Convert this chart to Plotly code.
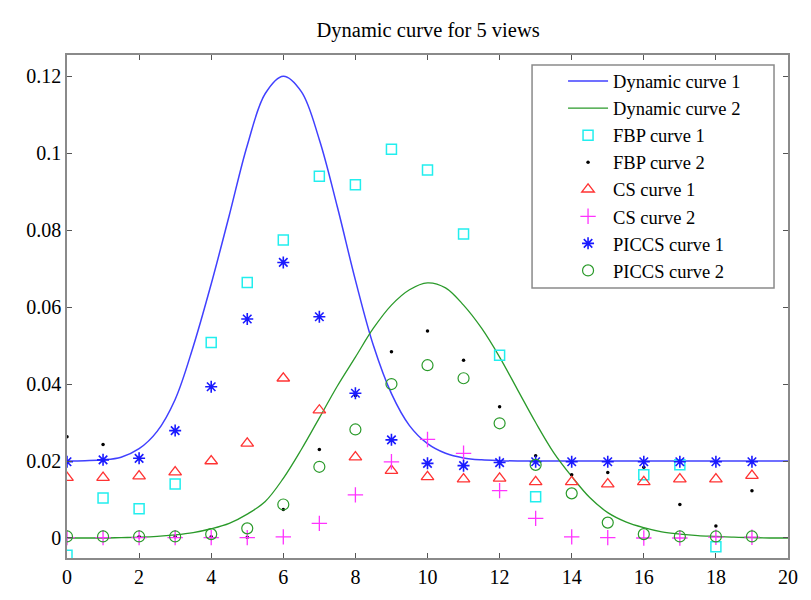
import plotly.graph_objects as go

# ---- data ----
x_pts = list(range(20))

fbp1 = [-0.0045, 0.0104, 0.0076, 0.0140, 0.0508, 0.0664, 0.0774, 0.0940, 0.0918, 0.1010,
        0.0956, 0.0790, 0.0475, 0.0107, None, None, 0.0164, 0.0190, -0.0023, None]
fbp2 = [0.0263, 0.0243, 0.0003, 0.0003, 0.0003, 0.0002, 0.0074, 0.0230, 0.0370, 0.0484,
        0.0538, 0.0462, 0.0341, 0.0214, 0.0164, 0.0170, 0.0184, 0.0087, 0.0031, 0.0123]
cs1 = [0.0157, 0.0157, 0.0161, 0.0171, 0.0200, 0.0246, 0.0415, 0.0332, 0.0210, 0.0175,
       0.0159, 0.0153, 0.0155, 0.0146, 0.0146, 0.0140, 0.0146, 0.0153, 0.0153, 0.0162]
cs2 = [0.0001, 0.0001, 0.0001, 0.0001, 0.0001, 0.0001, 0.0003, 0.0038, 0.0112, 0.0198,
       0.0256, 0.0220, 0.0123, 0.0051, 0.0003, 0.0001, 0.0000, 0.0000, 0.0002, 0.0002]
piccs1 = [0.0198, 0.0203, 0.0207, 0.0279, 0.0393, 0.0569, 0.0716, 0.0575, 0.0376, 0.0255,
          0.0194, 0.0188, 0.0196, 0.0198, 0.0198, 0.0198, 0.0198, 0.0198, 0.0198, 0.0198]
piccs2 = [0.0004, 0.0004, 0.0004, 0.0004, 0.0010, 0.0025, 0.0087, 0.0185, 0.0282, 0.0400,
          0.0449, 0.0415, 0.0298, 0.0190, 0.0116, 0.0040, 0.0010, 0.0004, 0.0004, 0.0004]

x_curve = [i * 0.5 for i in range(41)]
dyn1 = [0.0200, 0.0201, 0.0203, 0.0210, 0.0232, 0.0277, 0.0360, 0.0497, 0.0660, 0.0838,
        0.1020, 0.1155, 0.1200, 0.1160, 0.1035, 0.0860, 0.0670, 0.0500, 0.0375, 0.0292,
        0.0245, 0.0220, 0.0208, 0.0203, 0.0201, 0.0200, 0.0200, 0.0200, 0.0200, 0.0200,
        0.0200, 0.0200, 0.0200, 0.0200, 0.0200, 0.0200, 0.0200, 0.0200, 0.0200, 0.0200,
        0.0200]
dyn2 = [0.0000, 0.0000, 0.0000, 0.0001, 0.0002, 0.0004, 0.0008, 0.0014, 0.0024, 0.0038,
        0.0062, 0.0095, 0.0155, 0.0230, 0.0312, 0.0395, 0.0470, 0.0545, 0.0605, 0.0645,
        0.0663, 0.0650, 0.0605, 0.0545, 0.0470, 0.0385, 0.0300, 0.0222, 0.0160, 0.0105,
        0.0066, 0.0042, 0.0027, 0.0016, 0.0010, 0.0006, 0.0004, 0.0002, 0.0001, 0.0000,
        0.0000]

x_ticks = list(range(0, 21, 2))
y_ticks = [0, 0.02, 0.04, 0.06, 0.08, 0.1, 0.12]
y_tick_text = ["0", "0.02", "0.04", "0.06", "0.08", "0.1", "0.12"]

FONT = "Liberation Serif, Times New Roman, serif"

fig = go.Figure()
fig.add_trace(go.Scatter(x=x_curve, y=dyn1, mode="lines", name="Dynamic curve 1",
                         line=dict(color="#4040ff", width=1.5, shape="spline")))
fig.add_trace(go.Scatter(x=x_curve, y=dyn2, mode="lines", name="Dynamic curve 2",
                         line=dict(color="#2a9a2a", width=1.3, shape="spline")))
fig.add_trace(go.Scatter(x=x_pts, y=fbp1, mode="markers", name="FBP curve 1",
                         marker=dict(symbol="square-open", size=10, color="#22eeee",
                                     line=dict(width=1.5, color="#22eeee"))))
fig.add_trace(go.Scatter(x=x_pts, y=fbp2, mode="markers", name="FBP curve 2",
                         marker=dict(symbol="circle", size=3.5, color="black")))
fig.add_trace(go.Scatter(x=x_pts, y=cs1, mode="markers", name="CS curve 1",
                         marker=dict(symbol="triangle-up-open", size=11, color="#ff3333",
                                     line=dict(width=1.3, color="#ff3333"))))
fig.add_trace(go.Scatter(x=x_pts, y=cs2, mode="markers", name="CS curve 2",
                         marker=dict(symbol="cross-thin-open", size=11, color="#ff33ff",
                                     line=dict(width=1.3, color="#ff33ff"))))
fig.add_trace(go.Scatter(x=x_pts, y=piccs1, mode="markers", name="PICCS curve 1",
                         marker=dict(symbol="asterisk-open", size=10, color="#1a1aff",
                                     line=dict(width=1.6, color="#1a1aff"))))
fig.add_trace(go.Scatter(x=x_pts, y=piccs2, mode="markers", name="PICCS curve 2",
                         marker=dict(symbol="circle-open", size=11, color="#2a9a2a",
                                     line=dict(width=1.2, color="#2a9a2a"))))

axis_common = dict(showgrid=False, zeroline=False, showline=True, mirror="allticks",
                   linecolor="#8a8a8a", linewidth=1.5, ticks="inside", ticklen=5,
                   tickcolor="#555555", tickfont=dict(family=FONT, size=20, color="black"))

fig.update_layout(
    width=811, height=600,
    paper_bgcolor="white", plot_bgcolor="white",
    margin=dict(l=59, r=31, t=47, b=50, autoexpand=False),
    title=dict(text="Dynamic curve for 5 views", x=0.518, xanchor="center", y=0.963,
               yanchor="middle", font=dict(family=FONT, size=20.5, color="black")),
    xaxis=dict(range=[0, 20], tickvals=x_ticks, **axis_common),
    yaxis=dict(range=[-0.0052, 0.1255], tickvals=y_ticks, ticktext=y_tick_text,
               **axis_common),
    legend=dict(x=0.688, xanchor="left", y=0.985, yanchor="top",
                bgcolor="rgba(0,0,0,0)", borderwidth=0,
                font=dict(family=FONT, size=18.5, color="black"),
                tracegroupgap=0, itemwidth=40),
    shapes=[dict(type="rect", xref="paper", yref="paper", x0=0.645, x1=0.9806,
                 y0=0.5368, y1=0.980, line=dict(color="#8a8a8a", width=1.5),
                 fillcolor="white", layer="below")],
    showlegend=True,
)

fig.write_html("out.html")
